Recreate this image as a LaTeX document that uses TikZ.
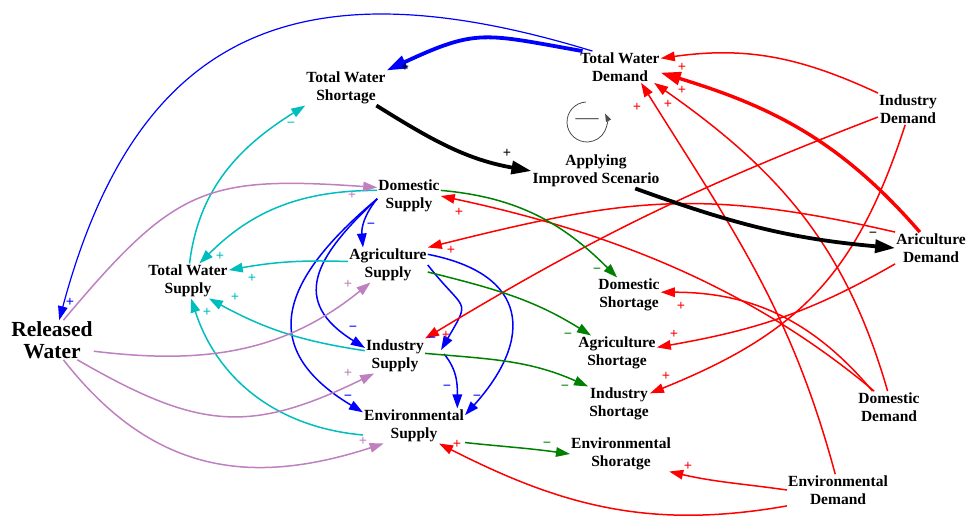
\documentclass[tikz,border=0pt]{standalone}
\usepackage{fontspec}
\setmainfont{Liberation Serif}
\usetikzlibrary{arrows.meta}
\definecolor{vblue}{RGB}{0,0,255}
\definecolor{vred}{RGB}{255,0,0}
\definecolor{vgreen}{RGB}{0,128,0}
\definecolor{vcyan}{RGB}{0,190,190}
\definecolor{vpurple}{RGB}{190,128,190}
\newcommand{\varfont}{\fontsize{15.5}{18.5}\selectfont\bfseries}
\newcommand{\bigvarfont}{\fontsize{21.5}{22}\selectfont\bfseries}
\newcommand{\polfont}{\fontsize{14.5}{14.5}\selectfont\bfseries}
\tikzset{
  var/.style={font=\varfont,align=center,inner sep=1pt},
  link/.style={-{Triangle[length=14pt,width=9.5pt]},line width=1.5pt},
  heavy/.style={-{Triangle[length=20pt,width=13pt]},line width=3.8pt},
  pol/.style={font=\polfont,inner sep=0pt}
}
\begin{document}
\begin{tikzpicture}[x=1pt,y=1pt]
  \useasboundingbox (0,0) rectangle (967,521);
  \draw
    (346,433) node[var] (tws){Total Water\\Shortage}
    (620,454) node[var] (twd){Total Water\\Demand}
    (596,350) node[var] (ais){Applying\\Improved Scenario}
    (908,412) node[var] (indd){Industry\\Demand}
    (931,273) node[var] (agd){Ariculture\\Demand}
    (409,325) node[var] (doms){Domestic\\Supply}
    (388,256) node[var] (agrs){Agriculture\\Supply}
    (188,240) node[var] (twsup){Total Water\\Supply}
    (52,181) node[var,font=\bigvarfont] (rw){Released\\Water}
    (395,165) node[var] (inds){Industry\\Supply}
    (414,95) node[var] (envs){Environmental\\Supply}
    (629,226) node[var] (domsh){Domestic\\Shortage}
    (617,168) node[var] (agrsh){Agriculture\\Shortage}
    (619,117) node[var] (indsh){Industry\\Shortage}
    (621,67) node[var] (envsh){Environmental\\Shoratge}
    (889,114) node[var] (domd){Domestic\\Demand}
    (838,31) node[var] (envd){Environmental\\Demand};
  % loop marker
  \node[font=\fontsize{23}{23}\selectfont,text=black!65,inner sep=0pt] (loop) at (587,399) {—};
  \draw[black!70,line width=0.8pt,-{Triangle[length=8pt,width=5.5pt]}]
    ([shift={(93:20)}]loop.center) arc[start angle=93,end angle=385,radius=20];
  \begin{scope}[vblue]
    \draw[heavy] (twd.157) to[out=170,in=25,looseness=1.3] (tws.north east);
    \draw[link,line width=1.2pt] (twd.150) to[out=163,in=75,looseness=1.3] (rw.70);
    \draw[link] (doms.-175) to[out=-130,in=95] (agrs.145);
    \draw[link] (doms.-175) to[out=-137,in=148,looseness=1.5] (inds.165);
    \draw[link] (doms.-175) to[out=-140,in=149,looseness=1.5] (envs.165);
    \draw[link] (agrs.east) to[out=-52,in=60,looseness=1.8] ([xshift=16pt,yshift=6pt]inds.east);
    \draw[link] (agrs.15) to[out=-11,in=48,looseness=1.6] (envs.12);
    \draw[link] ([xshift=19pt,yshift=2pt]inds.east) to[out=-50,in=90] (envs.22);
  \end{scope}
  \begin{scope}[vred]
    \draw[link] (indd.north west) to[out=155,in=8] (twd.12);
    \draw[heavy,line width=3.4pt] (agd.125) to[out=131,in=-17] (twd.-8);
    \draw[link] (domd.95) to[out=106,in=-35] (twd.-25);
    \draw[link] (envd.100) to[out=105,in=-58] (twd.-37);
    \draw[link] (indd.-165) to[bend right=5] (inds.north east);
    \draw[link] (indd.-100) to[out=-108,in=22,looseness=1.1] (indsh.19);
    \draw[link] (agd.north west) to[out=167,in=14,looseness=1.1] (agrs.north east);
    \draw[link] (agd.south west) to[out=-150,in=10] (agrsh.8);
    \draw[link] (domd.136) to[out=130,in=0] (domsh.5);
    \draw[link] (domd.133) to[out=140,in=-12,looseness=0.9] (doms.east);
    \draw[link] (envd.west) to[out=172,in=-13] (envsh.-20);
    \draw[link] (envd.south west) to[out=190,in=-27] (envs.-35);
  \end{scope}
  \begin{scope}[black]
    \draw[heavy] (tws.-30) to[out=-32,in=170] (ais.west);
    \draw[heavy] (ais.-24) to[out=-20,in=175] (agd.west);
  \end{scope}
  \begin{scope}[vcyan]
    \draw[link] (doms.170) to[out=180,in=45] (twsup.57);
    \draw[link] (agrs.175) to[bend right=6] (twsup.15);
    \draw[link] (inds.170) to[bend left=10] (twsup.-40);
    \draw[link] (envs.-170) to[out=175,in=-72] (twsup.-80);
    \draw[link] (twsup.85) to[out=83,in=212] (tws.south west);
  \end{scope}
  \begin{scope}[vpurple]
    \draw[link] (rw.60) to[out=50,in=176,looseness=1.3] (doms.165);
    \draw[link] (rw.-15) to[out=-7,in=219] (agrs.-135);
    \draw[link] (rw.-38) to[out=-30,in=206,looseness=1.2] (inds.-140);
    \draw[link] (rw.-60) to[out=-52,in=198,looseness=1.1] (envs.-150);
  \end{scope}
  \begin{scope}[vgreen]
    \draw[link] (doms.10) to[out=-5,in=135] (domsh.124);
    \draw[link] (agrs.-10) to[out=-14,in=148] (agrsh.146);
    \draw[link] (inds.5) to[out=-5,in=156] (indsh.north west);
    \draw[link] (envs.-18) to[out=-6,in=172] (envsh.west);
  \end{scope}
  % polarities
  \path[text=black]
    (405,454) node[pol] (p1){+}
    (507,368) node[pol] (p2){+}
    (873,286) node[pol] (p3){−};
  \path[text=vblue]
    (70,219) node[pol] (p4){+}
    (371,295) node[pol] (p5){−}
    (353,192) node[pol] (p6){−}
    (348,123) node[pol] (p7){−}
    (432,181) node[pol] (p8){−}
    (477,123) node[pol] (p9){−}
    (447,133) node[pol] (p10){−};
  \path[text=vcyan]
    (220,265) node[pol] (p11){+}
    (252,243) node[pol] (p12){+}
    (235,224) node[pol] (p13){+}
    (207,209) node[pol] (p14){+}
    (291,396) node[pol] (p15){−};
  \path[text=vpurple]
    (352,326) node[pol] (p16){+}
    (348,237) node[pol] (p17){+}
    (348,148) node[pol] (p18){+}
    (363,80) node[pol] (p19){+};
  \path[text=vgreen]
    (597,250) node[pol] (p20){−}
    (568,185) node[pol] (p21){−}
    (565,133) node[pol] (p22){−}
    (547,76) node[pol] (p23){−};
  \path[text=vred]
    (682,454) node[pol] (p24){+}
    (682,431) node[pol] (p25){+}
    (668,417) node[pol] (p26){+}
    (637,414) node[pol] (p27){+}
    (459,309) node[pol] (p28){+}
    (451,271) node[pol] (p29){+}
    (446,186) node[pol] (p30){+}
    (457,77) node[pol] (p31){+}
    (681,215) node[pol] (p32){+}
    (674,187) node[pol] (p33){+}
    (666,145) node[pol] (p34){+}
    (688,55) node[pol] (p35){+};
\end{tikzpicture}
\end{document}
